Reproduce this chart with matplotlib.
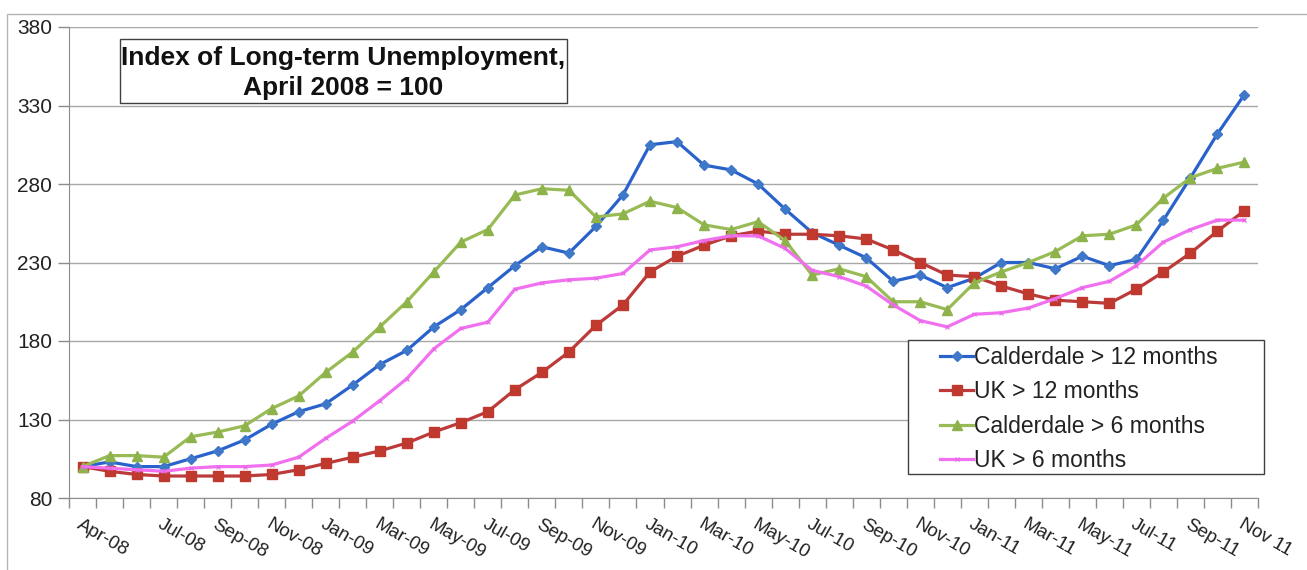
import numpy as np
import matplotlib
matplotlib.use('Agg')
import matplotlib.pyplot as plt
from matplotlib.patches import Rectangle

plt.rcParams['font.family'] = ['Liberation Sans', 'DejaVu Sans']

# 月度类别 (Apr-08 .. Nov-11)
months = ['Apr-08', 'May-08', 'Jun-08', 'Jul-08', 'Aug-08', 'Sep-08', 'Oct-08', 'Nov-08', 'Dec-08',
          'Jan-09', 'Feb-09', 'Mar-09', 'Apr-09', 'May-09', 'Jun-09', 'Jul-09', 'Aug-09', 'Sep-09',
          'Oct-09', 'Nov-09', 'Dec-09', 'Jan-10', 'Feb-10', 'Mar-10', 'Apr-10', 'May-10', 'Jun-10',
          'Jul-10', 'Aug-10', 'Sep-10', 'Oct-10', 'Nov-10', 'Dec-10', 'Jan-11', 'Feb-11', 'Mar-11',
          'Apr-11', 'May-11', 'Jun-11', 'Jul-11', 'Aug-11', 'Sep-11', 'Oct-11', 'Nov 11']
shown_labels = ['Apr-08', 'Jul-08', 'Sep-08', 'Nov-08', 'Jan-09', 'Mar-09', 'May-09', 'Jul-09',
                'Sep-09', 'Nov-09', 'Jan-10', 'Mar-10', 'May-10', 'Jul-10', 'Sep-10', 'Nov-10',
                'Jan-11', 'Mar-11', 'May-11', 'Jul-11', 'Sep-11', 'Nov 11']

calderdale_12 = [100, 103, 100, 100, 105, 110, 117, 127, 135, 140, 152, 165, 174, 189, 200, 214,
                 228, 240, 236, 253, 273, 305, 307, 292, 289, 280, 264, 249, 241, 233, 218, 222,
                 214, 220, 230, 230, 226, 234, 228, 232, 257, 284, 312, 337]
uk_12 = [100, 97, 95, 94, 94, 94, 94, 95, 98, 102, 106, 110, 115, 122, 128, 135,
         149, 160, 173, 190, 203, 224, 234, 241, 247, 250, 248, 248, 247, 245, 238, 230,
         222, 221, 215, 210, 206, 205, 204, 213, 224, 236, 250, 263]
calderdale_6 = [100, 107, 107, 106, 119, 122, 126, 137, 145, 160, 173, 189, 205, 224, 243, 251,
                273, 277, 276, 259, 261, 269, 265, 254, 251, 256, 244, 222, 226, 221, 205, 205,
                200, 217, 224, 230, 237, 247, 248, 254, 271, 284, 290, 294]
uk_6 = [100, 99, 98, 97, 99, 100, 100, 101, 106, 118, 129, 142, 156, 175, 188, 192,
        213, 217, 219, 220, 223, 238, 240, 244, 247, 247, 239, 225, 221, 215, 203, 193,
        189, 197, 198, 201, 207, 214, 218, 228, 243, 251, 257, 257]

W, H = 1307, 570
fig = plt.figure(figsize=(W / 100, H / 100), dpi=100)
fig.patch.set_facecolor('white')

def fx(px):
    return px / W

def fy(py):
    return 1 - py / H

ax = fig.add_axes([fx(69), fy(498), fx(1258) - fx(69), fy(27) - fy(498)])

x = np.arange(len(months))
ax.plot(x, calderdale_12, color='#2A62CC', lw=2.3, marker='D', ms=5.5, mfc='#3F78C8', mec='#3F78C8',
        label='Calderdale > 12 months', zorder=3)
ax.plot(x, uk_12, color='#BC3A3A', lw=2.3, marker='s', ms=7.5, mfc='#C0392F', mec='#C0392F',
        label='UK > 12 months', zorder=3)
ax.plot(x, calderdale_6, color='#98BB55', lw=2.3, marker='^', ms=7.5, mfc='#8DB34A', mec='#8DB34A',
        label='Calderdale > 6 months', zorder=3)
ax.plot(x, uk_6, color='#F070F0', lw=2.3, marker='x', ms=3.5, mew=0.8, mec='#E868E8',
        label='UK > 6 months', zorder=3)

# 坐标轴
ax.set_xlim(-0.5, len(months) - 0.5)
ax.set_ylim(80, 380)
ax.set_yticks(np.arange(80, 381, 50))
ax.yaxis.grid(True, color='#a8a8a8', lw=1)
ax.set_axisbelow(True)
for s in ['top', 'right']:
    ax.spines[s].set_visible(False)
for s in ['left', 'bottom']:
    ax.spines[s].set_color('#8c8c8c')
ax.tick_params(axis='y', length=8, width=1, color='#8c8c8c', labelsize=15, labelcolor='#222222', pad=4)

ax.set_xticks([months.index(m) for m in shown_labels])
ax.set_xticklabels(shown_labels, fontsize=13.5, color='#222222')
ax.set_xticks(np.arange(-0.5, len(months), 1), minor=True)
ax.tick_params(axis='x', which='major', length=0, pad=13)
ax.tick_params(axis='x', which='minor', length=7, width=1, color='#8c8c8c')
for lab in ax.get_xticklabels():
    lab.set_rotation(-30)
    lab.set_ha('left')
    lab.set_va('top')
    lab.set_rotation_mode('anchor')

# 标题框
ax.add_patch(Rectangle((fx(120), fy(103)), fx(567) - fx(120), fy(39) - fy(103), transform=fig.transFigure,
                       facecolor='white', edgecolor='#404040', lw=1, clip_on=False, zorder=5))
fig.text(fx(343), fy(65), 'Index of Long-term Unemployment,', ha='center', va='baseline',
         fontsize=19, fontweight='bold', color='#111111', zorder=6)
fig.text(fx(343), fy(95), 'April 2008 = 100', ha='center', va='baseline',
         fontsize=19, fontweight='bold', color='#111111', zorder=6)

# 图例
ax.add_patch(Rectangle((fx(908), fy(474)), fx(1264) - fx(908), fy(340) - fy(474), transform=fig.transFigure,
                       facecolor='white', edgecolor='#404040', lw=1, clip_on=False, zorder=5))
leg = fig.legend(loc='upper left', bbox_to_anchor=(fx(940), fy(346)), frameon=False, fontsize=16.5,
                 handlelength=1.45, handletextpad=0.05, labelspacing=0.5, borderpad=0, borderaxespad=0)
leg.set_zorder(7)
for t in leg.get_texts():
    t.set_color('#222222')

# 外框
fig.patches.append(Rectangle((fx(7), -0.1), 1.2, fy(14) + 0.1, transform=fig.transFigure,
                             fill=False, edgecolor='#b4b4b4', lw=1))

fig.savefig('out.png', dpi=100)
